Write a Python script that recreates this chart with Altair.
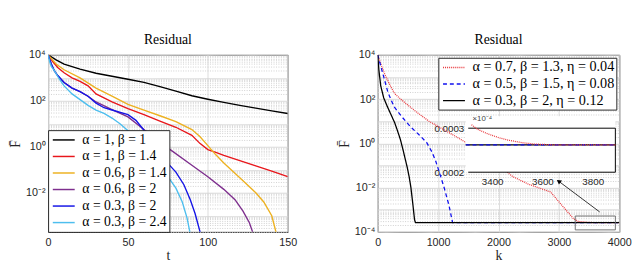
import altair as alt
import pandas as pd

# ---------------- Left panel data (t, log10 residual) ----------------
left_series = ["α = 1, β = 1", "α = 1, β = 1.4", "α = 0.6, β = 1.4",
               "α = 0.6, β = 2", "α = 0.3, β = 2", "α = 0.3, β = 2.4"]
left_colors = ["#000000", "#e8161b", "#EDB120", "#7E2F8E", "#1414e6", "#4DBEEE"]

t_black = [0, 5, 10, 20, 30, 40, 50, 60, 70, 80, 90, 100, 110, 120, 130, 140, 150]
L_black = [4.0, 3.78, 3.6, 3.38, 3.2, 3.07, 2.94, 2.8, 2.62, 2.42, 2.22, 2.07, 1.93, 1.8, 1.68, 1.56, 1.45]

t_red = [0, 3, 6, 10, 15, 20, 25, 30, 40, 50, 60, 70, 80, 90, 95, 100, 105, 110, 120, 130, 140, 150]
L_red = [4.0, 3.7, 3.45, 3.22, 3.0, 2.85, 2.65, 2.3, 1.95, 1.66, 1.4, 1.12, 0.85, 0.5, 0.15, -0.12, -0.24, -0.37, -0.6, -0.83, -1.06, -1.3]

t_orange = [0, 5, 10, 20, 30, 40, 50, 60, 70, 80, 90, 95, 100, 105, 110, 120, 130, 135, 140, 143]
L_orange = [4.0, 3.6, 3.35, 3.0, 2.55, 2.2, 1.85, 1.6, 1.35, 1.1, 0.75, 0.45, 0.05, -0.35, -0.7, -1.35, -2.0, -2.4, -3.0, -3.8]

t_purple = [0, 2, 4, 6, 10, 15, 20, 25, 30, 40, 50, 60, 70, 76, 90, 100, 110, 117, 122, 126, 128.5]
L_purple = [4.0, 3.6, 3.3, 3.1, 2.8, 2.55, 2.4, 2.2, 1.95, 1.62, 1.3, 0.75, 0.2, -0.1, -0.8, -1.3, -1.85, -2.3, -2.8, -3.3, -3.8]

t_blue = [0, 2, 4, 6, 10, 15, 20, 25, 30, 35, 40, 50, 55, 60, 65, 70, 76, 80, 85, 89, 92, 95.5]
L_blue = [4.0, 3.6, 3.3, 3.1, 2.8, 2.55, 2.4, 2.2, 1.9, 1.7, 1.6, 1.4, 1.15, 0.72, 0.35, -0.1, -0.8, -1.1, -1.65, -2.3, -2.9, -3.8]

t_lblue = [0, 1, 2, 4, 7, 10, 15, 20, 25, 30, 35, 40, 45, 50, 55, 60, 65, 70, 75, 80, 84, 87, 89]
L_lblue = [4.0, 3.7, 3.5, 3.3, 2.95, 2.65, 2.3, 2.05, 1.8, 1.6, 1.45, 1.25, 1.0, 0.7, 0.35, 0.0, -0.4, -0.85, -1.3, -1.8, -2.4, -3.1, -3.8]

left_x = [t_black, t_red, t_orange, t_purple, t_blue, t_lblue]
left_L = [L_black, L_red, L_orange, L_purple, L_blue, L_lblue]

# ---------------- Right panel data (k, log10 residual) ----------------
right_series = ["α = 0.7, β = 1.3, η = 0.04", "α = 0.5, β = 1.5, η = 0.08", "α = 0.3, β = 2, η = 0.12"]
right_colors = ["#e8383d", "#1010ee", "#000000"]
right_dash = [[1, 1], [4, 3], [1, 0]]

k_red = [0, 50, 120, 200, 280, 400, 650, 850, 1085, 1300, 1460, 1700, 2000, 2235, 2500, 2865, 3050, 3240, 3320, 3500, 3700, 4000]
L_redr = [4.0, 3.6, 3.1, 2.65, 2.25, 1.95, 1.4, 1.0, 0.63, 0.3, 0.04, -0.4, -1.0, -1.5, -1.85, -2.2, -2.8, -3.4, -3.53, -3.575, -3.583, -3.583]

k_bluer = [0, 30, 60, 110, 170, 270, 400, 540, 680, 810, 900, 960, 1020, 1100, 1180, 1240, 4000]
L_bluer = [4.0, 3.7, 3.4, 2.9, 2.3, 1.66, 1.2, 0.76, 0.4, 0.04, -0.4, -0.8, -1.3, -2.0, -2.8, -3.583, -3.583]

k_blackr = [0, 20, 50, 100, 160, 220, 280, 330, 375, 420, 455, 490, 520, 550, 580, 610, 625, 4000]
L_blackr = [4.0, 3.3, 2.6, 2.05, 1.66, 1.3, 0.94, 0.55, 0.18, -0.3, -0.7, -1.1, -1.5, -2.0, -2.7, -3.45, -3.583, -3.583]

right_x = [k_red, k_bluer, k_blackr]
right_L = [L_redr, L_bluer, L_blackr]

# inset (linear values)
inset_xdom = [3295, 3890]
inset_ydom = [0.0002, 0.0003]
inset_red_k = [3318, 3340, 3383, 3430, 3463, 3520, 3569, 3650, 3890]
inset_red_v = [0.000308, 0.000298, 0.000287, 0.000278, 0.000273, 0.000267, 0.000264, 0.000262, 0.000262]
inset_flat_k = [3295, 3890]
inset_flat_v = [0.000262, 0.000262]

zoom_box = {"x": 3271, "x2": 3935, "y": 1.23e-4, "y2": 5.2e-4}
arrow = {"x": 3676, "y": 10 ** -3.1, "x2": 2996, "y2": 10 ** -1.71}

# ---------------- helpers ----------------
SERIF = "Liberation Serif"
SANS = "Liberation Sans"


def long_df(names, xs, Ls):
    rows = []
    for n, xv, lv in zip(names, xs, Ls):
        for a, b in zip(xv, lv):
            rows.append({"series": n, "x": a, "y": 10 ** b})
    return pd.DataFrame(rows)


def log_ticks(lo_exp, hi_exp, ymin, ymax):
    vals = []
    for e in range(lo_exp, hi_exp + 1):
        for m in range(1, 10):
            v = float(f"{m}e{e}")
            if ymin * 0.999 <= v <= ymax * 1.001:
                vals.append(v)
    return vals


major_test = "abs(log(datum.value)/LN10 - round(log(datum.value)/LN10)) < 0.001"
label_expr = ("datum.value==10000?'10⁴':datum.value==100?'10²':datum.value==1?'10⁰':"
              "datum.value==0.01?'10⁻²':datum.value==0.0001?'10⁻⁴':''")


def y_axis(vals):
    return alt.Axis(values=vals, labelExpr=label_expr, labelOverlap=False, labelFlush=False,
                    ticks=False, domain=False, grid=True,
                    gridColor={"condition": {"test": major_test, "value": "#d4d4d4"}, "value": "#d0d0d0"},
                    gridDash={"condition": {"test": major_test, "value": [1, 0]}, "value": [1, 1.5]},
                    title="F̄", titleFont=SERIF, titleFontSize=14, titleFontWeight="normal",
                    titleColor="#262626", titlePadding=3, labelPadding=3)


def x_axis(vals, title):
    return alt.Axis(values=vals, format="d", labelFlush=False, ticks=False, domain=False, grid=True,
                    gridColor="#dcdcdc",
                    title=title, titleFont=SERIF, titleFontSize=14, titleFontWeight="normal",
                    titleColor="#262626", titlePadding=1, labelPadding=5)


SYM = 14  # symbol box; the line path is stretched to ~22 px
SYM_PATH = "M-1.6,0L1.6,0"


def legend(orient, fs):
    return alt.Legend(title=None, orient=orient, offset=3 if orient == "top-right" else 0,
                      symbolType=SYM_PATH, symbolSize=SYM * SYM, symbolStrokeWidth=1.5,
                      symbolOffset=6, labelOffset=11,
                      labelFont=SERIF, labelFontSize=fs, labelColor="#000000", labelLimit=400,
                      strokeColor="#262626", fillColor="white", padding=2, rowPadding=1.9,
                      cornerRadius=0)


# ---------------- left panel ----------------
ldf = long_df(left_series, left_x, left_L)
lymin, lymax = 10 ** -3.7, 1e4
left = alt.Chart(ldf).mark_line(strokeWidth=1.4, clip=True).encode(
    x=alt.X("x:Q", scale=alt.Scale(domain=[0, 150], nice=False), axis=x_axis([0, 50, 100, 150], "t")),
    y=alt.Y("y:Q", scale=alt.Scale(type="log", domain=[lymin, lymax], nice=False),
            axis=y_axis(log_ticks(-4, 4, lymin, lymax))),
    color=alt.Color("series:N", sort=left_series,
                    scale=alt.Scale(domain=left_series, range=left_colors),
                    legend=legend("bottom-left", 14)),
    order=alt.Order("x:Q"),
).properties(width=245, height=181,
             title=alt.TitleParams("Residual", font=SERIF, fontSize=14, fontWeight="normal", offset=2))

# ---------------- right panel ----------------
rdf = long_df(right_series, right_x, right_L)
RH = 181
RW = 247
xs_main = alt.Scale(domain=[0, 4000], nice=False)
ys_main = alt.Scale(type="log", domain=[1e-4, 1e4], nice=False)
color_enc = alt.Color("series:N", sort=right_series,
                      scale=alt.Scale(domain=right_series, range=right_colors),
                      legend=legend("top-right", 14.5))
dash_enc = alt.StrokeDash("series:N", sort=right_series,
                          scale=alt.Scale(domain=right_series, range=right_dash),
                          legend=legend("top-right", 14.5))

main_lines = alt.Chart(rdf).mark_line(strokeWidth=1.3, clip=True).encode(
    x=alt.X("x:Q", scale=xs_main, axis=x_axis([0, 1000, 2000, 3000, 4000], "k")),
    y=alt.Y("y:Q", scale=ys_main, axis=y_axis(log_ticks(-4, 4, 1e-4, 1e4))),
    color=color_enc, strokeDash=dash_enc, order=alt.Order("x:Q"),
)
box_df = pd.DataFrame([zoom_box])
small_box = alt.Chart(box_df).mark_rect(fill=None, stroke="#707070", strokeWidth=1).encode(
    x="x:Q", x2="x2:Q", y="y:Q", y2="y2:Q")
arr_df = pd.DataFrame([arrow])
arr_line = alt.Chart(arr_df).mark_rule(color="#000000", strokeWidth=0.8).encode(
    x="x:Q", y="y:Q", x2="x2:Q", y2="y2:Q")
arr_head = alt.Chart(arr_df).mark_point(shape="triangle-up", filled=True, color="#000000",
                                        size=28, angle=306, opacity=1).encode(x="x2:Q", y="y2:Q")
main_layer = alt.layer(main_lines, small_box, arr_line, arr_head)

# inset
ix = alt.Scale(domain=inset_xdom, range=[90, 243], nice=False, zero=False)
iy = alt.Scale(domain=inset_ydom, range=[120, 75], nice=False, zero=False)
ix_axis = alt.Axis(orient="bottom", offset=-(RH - 120), values=[3400, 3600, 3800], format="d", ticks=False,
                   labelFlush=False, domain=False, grid=False, title=None, labelPadding=5, labelFontSize=10)
iy_axis = alt.Axis(orient="left", offset=-90, values=[0.0002, 0.0003], format=".4f", ticks=False,
                   labelFlush=False, domain=False, grid=False, title=None, labelPadding=2, labelFontSize=10)
bg_df = pd.DataFrame([{"x": inset_xdom[0], "x2": inset_xdom[1], "y": inset_ydom[0], "y2": inset_ydom[1] * 1.09}])
inset_bg = alt.Chart(bg_df).mark_rect(fill="white", stroke=None).encode(
    x=alt.X("x:Q", scale=ix, axis=ix_axis), x2="x2:Q",
    y=alt.Y("y:Q", scale=iy, axis=iy_axis), y2="y2:Q")
frame_df = pd.DataFrame([
    {"x": inset_xdom[0] + 10, "y": inset_ydom[1], "x2": inset_xdom[1], "y2": inset_ydom[1]},
    {"x": inset_xdom[0] + 10, "y": inset_ydom[0], "x2": inset_xdom[1], "y2": inset_ydom[0]},
    {"x": inset_xdom[1], "y": inset_ydom[0], "x2": inset_xdom[1], "y2": inset_ydom[1]},
])
inset_frame = alt.Chart(frame_df).mark_rule(color="#000000", strokeWidth=1).encode(
    x="x:Q", y="y:Q", x2="x2:Q", y2="y2:Q")

inset_specs = [(2, inset_flat_k, inset_flat_v), (1, inset_flat_k, inset_flat_v), (0, inset_red_k, inset_red_v)]
inset_marks = []
for idx, kk, vv in inset_specs:
    d = pd.DataFrame({"x": kk, "y": vv})
    inset_marks.append(alt.Chart(d).mark_line(strokeWidth=1.3, color=right_colors[idx],
                                              strokeDash=right_dash[idx]).encode(x="x:Q", y="y:Q"))
exp_df = pd.DataFrame([{"x": inset_xdom[0], "y": inset_ydom[1], "t": "×10⁻⁴"}])
inset_exp = alt.Chart(exp_df).mark_text(font=SANS, fontSize=8, color="#404040", dx=17, dy=-9).encode(
    x="x:Q", y="y:Q", text="t:N")
inset_layer = alt.layer(inset_bg, inset_frame, *inset_marks, inset_exp)

right = alt.layer(main_layer, inset_layer).resolve_scale(x="independent", y="independent").properties(
    width=RW, height=RH,
    title=alt.TitleParams("Residual", font=SERIF, fontSize=14, fontWeight="normal", offset=2))

chart = alt.hconcat(left, right, spacing=40).resolve_scale(
    color="independent", strokeDash="independent"
).properties(
    padding={"top": 22, "left": 0, "right": 0, "bottom": 0}
).configure_view(stroke="#262626", strokeWidth=1).configure_axis(
    labelFont=SANS, labelFontSize=11, labelColor="#262626"
).configure_title(color="#000000")

chart.save("out.html", embed_options={"renderer": "svg", "actions": False})
